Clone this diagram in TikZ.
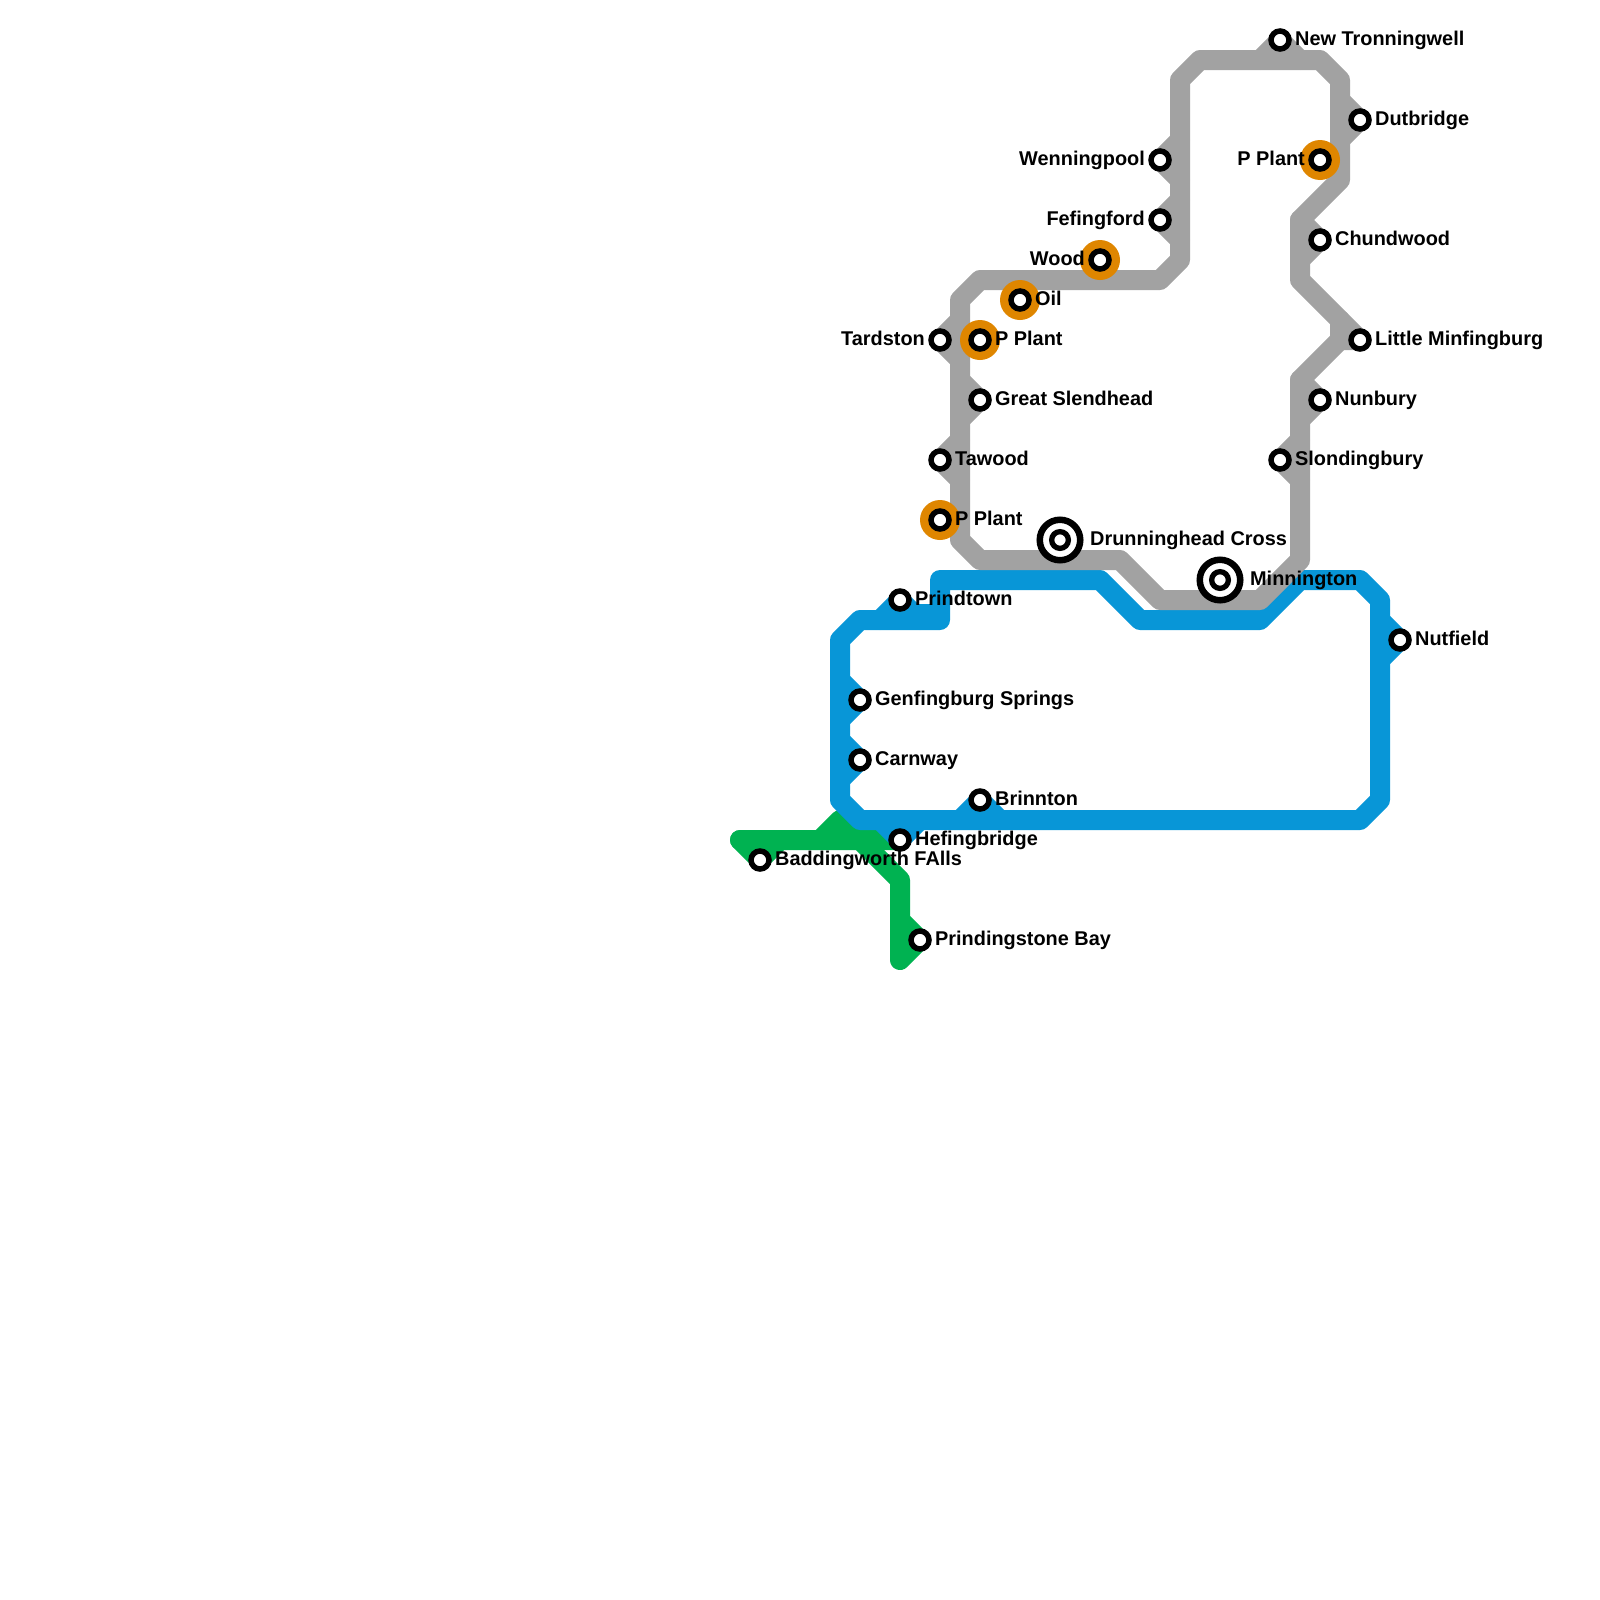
\documentclass[tikz,border=0pt]{standalone}
\usepackage{fontspec}
\setmainfont{Liberation Sans}
\definecolor{lblue}{HTML}{0896D7}
\definecolor{lgreen}{HTML}{00B251}
\definecolor{lgray}{HTML}{A2A2A2}
\definecolor{lorange}{HTML}{DF8600}
\tikzset{
  x=0.05cm,y=-0.05cm,
  metroline/.style={line width=10mm,line cap=round,line join=round},
  bluel/.style={metroline,draw=lblue},
  greenl/.style={metroline,draw=lgreen},
  grayl/.style={metroline,draw=lgray},
  stn/.style={circle,draw=black,fill=white,line width=2.75mm,minimum size=9mm,inner sep=0pt,outer sep=0pt},
  stnin/.style={circle,draw=black,fill=white,line width=2.65mm,minimum size=8.35mm,inner sep=0pt,outer sep=0pt},
  halo/.style={circle,fill=lorange,minimum size=20mm,inner sep=0pt},
  bigo/.style={circle,draw=black,fill=white,line width=3.25mm,minimum size=20.25mm,inner sep=0pt,outer sep=0pt},
  lab/.style={font=\bfseries\fontsize{9.95mm}{11mm}\selectfont,inner sep=0pt},
  labr/.style={lab,anchor=base west},
  labl/.style={lab,anchor=base east},
}
\begin{document}
\begin{tikzpicture}
\useasboundingbox (0,0) rectangle (1600,1600);
% green
\draw[greenl] (740,840) -- (860,840) -- (900,880) -- (900,960) -- (920,940) -- (900,920);
\draw[greenl] (740,840) -- (760,860) -- (780,840);
\draw[greenl] (820,840) -- (840,820) -- (860,840) -- (900,840);
% blue
\draw[bluel] (940,580) -- (1100,580) -- (1140,620) -- (1260,620) -- (1300,580) -- (1360,580) -- (1380,600) -- (1380,800) -- (1360,820) -- (860,820) -- (840,800) -- (840,640) -- (860,620) -- (940,620) -- cycle;
\draw[bluel] (880,620) -- (900,600) -- (920,620);
\draw[bluel] (900,614) -- (930,614);
\draw[bluel] (840,680) -- (860,700) -- (840,720);
\draw[bluel] (840,740) -- (860,760) -- (840,780);
\draw[bluel] (960,820) -- (980,800) -- (1000,820);
\draw[bluel] (880,820) -- (900,840) -- (920,820);
\draw[bluel] (1380,620) -- (1400,640) -- (1380,660);
% gray
\draw[grayl] (960,300) -- (980,280) -- (1160,280) -- (1180,260) -- (1180,80) -- (1200,60) -- (1320,60) -- (1340,80) -- (1340,180) -- (1300,220) -- (1300,280) -- (1340,320) -- (1340,340) -- (1300,380) -- (1300,560) -- (1260,600) -- (1160,600) -- (1120,560) -- (980,560) -- (960,540) -- cycle;
\draw[grayl] (1260,60) -- (1280,40) -- (1300,60);
\draw[grayl] (1340,100) -- (1360,120) -- (1340,140);
\draw[grayl] (1180,140) -- (1160,160) -- (1180,180);
\draw[grayl] (1180,200) -- (1160,220) -- (1180,240);
\draw[grayl] (1300,220) -- (1320,240) -- (1300,260);
\draw[grayl] (1340,320) -- (1360,340) -- (1340,340);
\draw[grayl] (1300,380) -- (1320,400) -- (1300,420);
\draw[grayl] (1300,440) -- (1280,460) -- (1300,480);
\draw[grayl] (960,320) -- (940,340) -- (960,360);
\draw[grayl] (960,380) -- (980,400) -- (960,420);
\draw[grayl] (960,440) -- (940,460) -- (960,480);
% orange halos
\node[halo] (h1) at (1320,160) {};
\node[halo] (h2) at (1100,260) {};
\node[halo] (h3) at (1020,300) {};
\node[halo] (h4) at (980,340) {};
\node[halo] (h5) at (940,520) {};
% stations
\foreach \n/\xx/\yy in {ntr/1280/40,dut/1360/120,ppa/1320/160,wen/1160/160,fef/1160/220,chu/1320/240,woo/1100/260,oil/1020/300,tar/940/340,ppb/980/340,lmi/1360/340,gsl/980/400,nun/1320/400,taw/940/460,slo/1280/460,ppc/940/520,pri/900/600,nut/1400/640,gen/860/700,car/860/760,bri/980/800,hef/900/840,bad/760/860,pbay/920/940}
  \node[stn] (\n) at (\xx,\yy) {};
\node[bigo] (dcO) at (1060,540) {};
\node[stnin] (dc) at (1060,540) {};
\node[bigo] (miO) at (1220,580) {};
\node[stnin] (mi) at (1220,580) {};
% labels
\node[labr] at (1295,45.2) {New Tronningwell};
\node[labr] at (1375,125.2) {Dutbridge};
\node[labl] at (1305,165.2) {P Plant};
\node[labl] at (1145,165.2) {Wenningpool};
\node[labl] at (1145,225.2) {Fefingford};
\node[labr] at (1335,245.2) {Chundwood};
\node[labl] at (1085,265.2) {Wood};
\node[labr] at (1035,305.2) {Oil};
\node[labl] at (925,345.2) {Tardston};
\node[labr] at (995,345.2) {P Plant};
\node[labr] at (1375,345.2) {Little Minfingburg};
\node[labr] at (995,405.2) {Great Slendhead};
\node[labr] at (1335,405.2) {Nunbury};
\node[labr] at (955,465.2) {Tawood};
\node[labr] at (1295,465.2) {Slondingbury};
\node[labr] at (955,525.2) {P Plant};
\node[labr] at (1090,545.2) {Drunninghead Cross};
\node[labr] at (1250,585.2) {Minnington};
\node[labr] at (915,605.2) {Prindtown};
\node[labr] at (1415,645.2) {Nutfield};
\node[labr] at (875,705.2) {Genfingburg Springs};
\node[labr] at (875,765.2) {Carnway};
\node[labr] at (995,805.2) {Brinnton};
\node[labr] at (915,845.2) {Hefingbridge};
\node[labr] at (775,865.2) {Baddingworth FAlls};
\node[labr] at (935,945.2) {Prindingstone Bay};
\end{tikzpicture}
\end{document}
